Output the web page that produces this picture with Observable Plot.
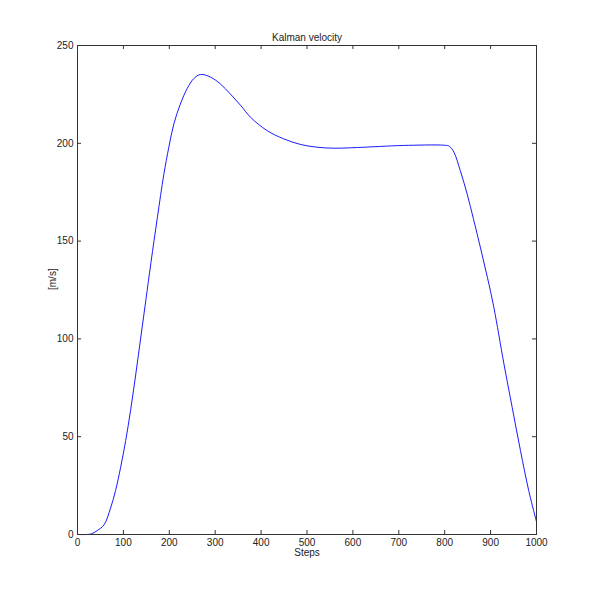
<!DOCTYPE html>
<html>
<head>
<meta charset="utf-8">
<script src="https://cdn.jsdelivr.net/npm/d3@7"></script>
<script src="https://cdn.jsdelivr.net/npm/@observablehq/plot@0.6"></script>
<style>
  html, body { margin: 0; padding: 0; background: #fff; overflow: hidden; }
</style>
</head>
<body>
<div id="chart"></div>
<script>
const steps = [0, 20, 30, 43, 58, 72, 83, 94, 105, 116, 127, 138, 149, 160, 174, 188, 199, 210, 224, 239, 253, 268, 290, 311, 333, 355, 377, 413, 449, 486, 522, 558, 595, 660, 710, 800, 810, 820, 834, 849, 863, 878, 893, 907, 929, 947, 965, 983, 1000];
const velocity = [0, 0, 0.3, 2, 5.0, 13.5, 22.5, 34.4, 48, 64, 82, 101, 120, 139, 162, 184, 198, 210, 220, 228, 233, 235.2, 233.8, 230.4, 225.2, 219.5, 213.3, 206.5, 202.3, 199.4, 198, 197.5, 197.7, 198.4, 198.9, 199, 198.5, 195.5, 186, 174, 161, 146.5, 131.5, 116.2, 87.3, 65, 43, 22.5, 6.5];
const xTicks = [0, 100, 200, 300, 400, 500, 600, 700, 800, 900, 1000];
const yTicks = [0, 50, 100, 150, 200, 250];
const titleText = "Kalman velocity";
const xLabel = "Steps";
const yLabel = "[m/s]";

const data = steps.map((s, i) => ({step: s, v: velocity[i]}));

const W = 592, H = 600, mL = 77, mR = 56, mT = 45, mB = 66;
const plotW = W - mL - mR, plotH = H - mT - mB;
const axisColor = "#333";

const chart = Plot.plot({
  width: W,
  height: H,
  marginLeft: mL,
  marginRight: mR,
  marginTop: mT,
  marginBottom: mB,
  style: {fontFamily: "'Liberation Sans', Arial, sans-serif", fontSize: "10px", background: "#fff", color: "#222"},
  x: {domain: [0, 1000]},
  y: {domain: [0, 250]},
  marks: [
    Plot.axisX(xTicks, {tickSize: 0, tickPadding: 4, label: null, fontSize: 10, tickFormat: d => String(d)}),
    Plot.axisY(yTicks, {tickSize: 0, tickPadding: 4, label: null, fontSize: 10, tickFormat: d => String(d)}),
    Plot.tickX(xTicks, {x: d => d, insetTop: plotH - 4, stroke: axisColor}),
    Plot.tickX(xTicks, {x: d => d, insetBottom: plotH - 4, stroke: axisColor}),
    Plot.tickY(yTicks, {y: d => d, insetRight: plotW - 4, stroke: axisColor}),
    Plot.tickY(yTicks, {y: d => d, insetLeft: plotW - 4, stroke: axisColor}),
    Plot.line(data, {x: "step", y: "v", stroke: "#0000ff", strokeWidth: 0.9, curve: "catmull-rom"}),
    Plot.frame({stroke: axisColor}),
    Plot.text([titleText], {frameAnchor: "top", lineAnchor: "middle", dy: -8, fontSize: 10, fill: "#222"}),
    Plot.text([xLabel], {frameAnchor: "bottom", lineAnchor: "middle", dy: 18, fontSize: 10, fill: "#222"}),
    Plot.text([yLabel], {frameAnchor: "left", lineAnchor: "middle", dx: -25, rotate: -90, fontSize: 10, fill: "#222"})
  ]
});
document.getElementById("chart").appendChild(chart);
</script>
</body>
</html>
